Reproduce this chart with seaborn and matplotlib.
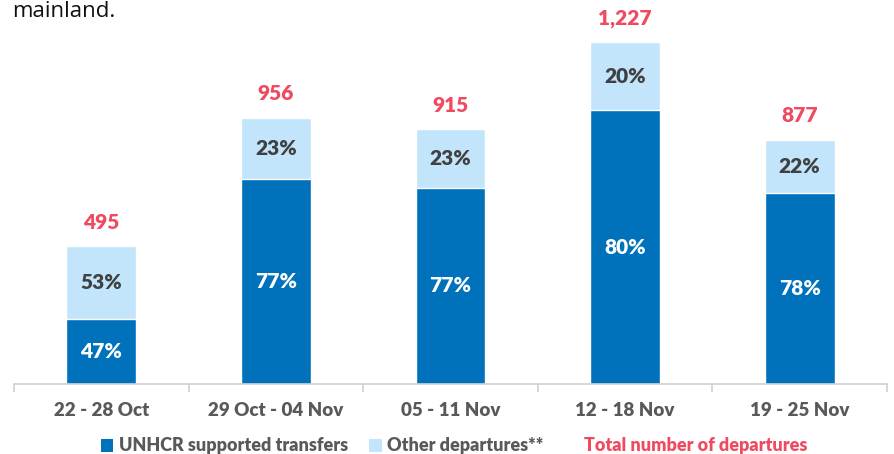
import matplotlib
matplotlib.use("Agg")
import matplotlib.pyplot as plt
from matplotlib.patches import Patch
from matplotlib.lines import Line2D
import seaborn as sns

weeks = ["22 - 28 Oct", "29 Oct - 04 Nov", "05 - 11 Nov", "12 - 18 Nov", "19 - 25 Nov"]
totals = [495, 956, 915, 1227, 877]
unhcr_pct = [47, 77, 77, 80, 78]
other_pct = [53, 23, 23, 20, 22]

dark = "#0072BC"
light = "#C2E5FB"
red = "#EF4A60"
grey = "#595959"

sns.set_theme(style="white")
plt.rcParams["font.family"] = ["Lato", "DejaVu Sans"]

fig = plt.figure(figsize=(8.95, 4.54), dpi=100)
ax = fig.add_axes([14 / 895, 70 / 454, 873 / 895, 384 / 454])

unhcr = [t * p / 100 for t, p in zip(totals, unhcr_pct)]

sns.barplot(x=weeks, y=totals, color=light, width=0.4, saturation=1, ax=ax)
sns.barplot(x=weeks, y=unhcr, color=dark, width=0.4, saturation=1, ax=ax)

for i, (t, u, pu, po) in enumerate(zip(totals, unhcr, unhcr_pct, other_pct)):
    ax.text(i, u / 2, f"{pu}%", ha="center", va="center", color="white",
            fontsize=15, fontweight="heavy")
    ax.text(i, (u + t) / 2, f"{po}%", ha="center", va="center", color="#404040",
            fontsize=15, fontweight="heavy")
    ax.annotate(f"{t:,}", (i, t), xytext=(0, 17), textcoords="offset points",
                ha="center", va="center", color=red, fontsize=15, fontweight="heavy")

ax.set_xlim(-0.5, 4.5)
ax.set_ylim(0, 1378)
ax.set_yticks([])
ax.set_ylabel("")
for s in ["top", "left", "right"]:
    ax.spines[s].set_visible(False)
ax.spines["bottom"].set_color("#d0d0d0")
ax.spines["bottom"].set_linewidth(1.2)
ax.set_xticks([i - 0.5 for i in range(6)], minor=True)
ax.tick_params(axis="x", which="minor", length=6, width=1.2, color="#d0d0d0", bottom=True)
ax.tick_params(axis="x", which="major", length=0, pad=13, labelsize=13.5, labelcolor=grey)
for lab in ax.get_xticklabels():
    lab.set_fontweight("heavy")

handles = [
    Patch(facecolor=dark, edgecolor="none"),
    Patch(facecolor=light, edgecolor="none"),
    Line2D([], [], linestyle="none"),
]
leg = fig.legend(handles, ["UNHCR supported transfers", "Other departures**",
                           "Total number of departures"],
                 loc="center", bbox_to_anchor=(0.507, 8 / 454), ncol=3, frameon=False,
                 handlelength=0.7, handleheight=0.7, handletextpad=0.3,
                 columnspacing=1.2, prop={"weight": "heavy", "size": 13})
for txt, c in zip(leg.get_texts(), [grey, grey, red]):
    txt.set_color(c)

fig.text(12 / 895, 1 - 17 / 454, "mainland.", ha="left", va="baseline",
         fontsize=16, color="#111111", family=["Open Sans", "DejaVu Sans"])

fig.savefig("out.png", dpi=100)
